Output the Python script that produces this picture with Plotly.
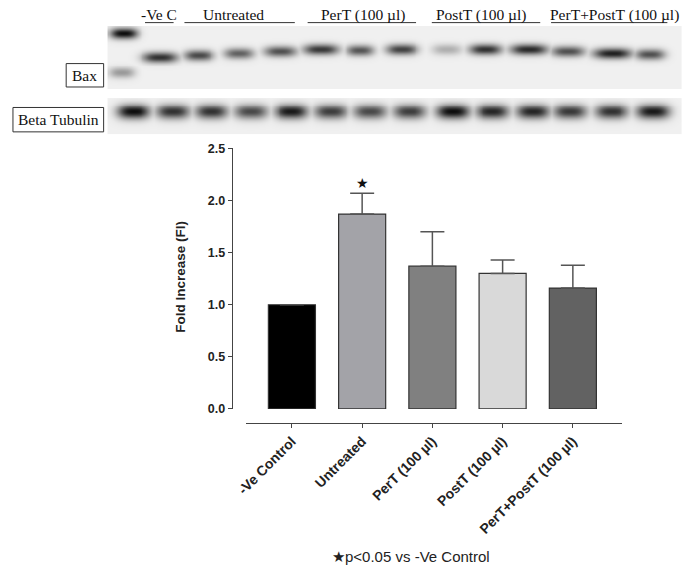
import numpy as np
import plotly.graph_objects as go

# bar chart data
groups = ["-Ve Control", "Untreated", "PerT (100 µl)", "PostT (100 µl)", "PerT+PostT (100 µl)"]
fold_increase = [1.00, 1.87, 1.37, 1.30, 1.16]
sem_upper = [0.0, 0.20, 0.33, 0.13, 0.22]
bar_colors = ["#000000", "#a3a3a8", "#808080", "#d9d9d9", "#626262"]
significant = [False, True, False, False, False]

# blot lane labels
lane_groups = ["-Ve C", "Untreated", "PerT (100 µl)", "PostT (100 µl)", "PerT+PostT (100 µl)"]

# blot band intensities (0 = background, 1 = black)
bax_intensity = [0.85, 0.75, 0.65, 0.72, 0.82, 0.70, 0.78, 0.30, 0.85, 0.88, 0.72, 0.92, 0.72]
tubulin_intensity = [1.0, 0.85, 0.85, 0.75, 0.95, 0.80, 0.75, 0.80, 1.0, 0.90, 0.90, 0.82, 0.85, 0.95]
ladder_intensity = [1.0, 0.40]

W, H = 692, 572

# ---- blot layout (pixel positions) ----
bax_x = [152, 191, 232, 274, 315, 355, 397, 443, 482, 526, 566, 611, 649]
bax_y = [51, 49, 47, 45, 43, 44, 43, 43, 43, 43, 45, 47, 48]
bax_w = [18, 15, 15, 17, 18, 14, 16, 15, 17, 19, 17, 20, 15]
tub_x = [125, 165, 204, 244, 285, 325, 365, 405, 449, 489, 530, 568, 610, 652]
ladder_xy = [(115, 27, 14), (113, 67, 13)]

xs = np.arange(100, 681, 2)
ys = np.arange(20, 131, 1)
X, Y = np.meshgrid(xs, ys)
z = np.zeros(X.shape)
for cx, cy, w, a in zip(bax_x, bax_y, bax_w, bax_intensity):
    z = np.maximum(z, a * np.exp(-np.abs((X - cx) / w) ** 3) * np.exp(-((Y - cy) / 5.5) ** 2))
for (cx, cy, w), a in zip(ladder_xy, ladder_intensity):
    z = np.maximum(z, a * np.exp(-np.abs((X - cx) / w) ** 3) * np.exp(-((Y - cy) / 5.5) ** 2))
for cx, a in zip(tub_x, tubulin_intensity):
    z = np.maximum(z, a * np.exp(-np.abs((X - cx) / 17) ** 3) * np.exp(-((Y - 107) / 7.5) ** 2))
z = z.astype(object)
gap = (Y > 83) & (Y < 93)
z[gap] = None

fig = go.Figure()

fig.add_trace(go.Heatmap(
    x=xs, y=ys, z=z.tolist(), xaxis="x2", yaxis="y2",
    colorscale=[[0, "#f0f0f0"], [0.5, "#858585"], [1, "#0d0d0d"]],
    zmin=0, zmax=1, zsmooth="best", showscale=False, hoverinfo="skip",
))

fig.add_trace(go.Bar(
    x=list(range(len(groups))), y=fold_increase, width=0.67,
    marker=dict(color=bar_colors, line=dict(color="#333333", width=1.2)),
    error_y=dict(type="data", array=sem_upper, arrayminus=[0] * len(groups),
                 color="#555555", thickness=1.5, width=12),
    showlegend=False, hoverinfo="skip",
))

fig.update_layout(
    width=W, height=H, margin=dict(l=0, r=0, t=0, b=0),
    paper_bgcolor="white", plot_bgcolor="rgba(0,0,0,0)",
    font=dict(family="Liberation Sans, Arial", color="#222222"),
    xaxis=dict(domain=[239 / W, 621 / W], anchor="free", position=1 - 426 / H,
               range=[-0.66, 4.70], tickvals=list(range(len(groups))), ticktext=groups,
               tickangle=-45, ticks="outside", ticklen=4, tickcolor="#444444",
               showline=True, linecolor="#444444", linewidth=1.3, showgrid=False,
               zeroline=False, tickfont=dict(size=14, weight="bold", color="#222222")),
    yaxis=dict(domain=[1 - 412 / H, 1 - 145 / H], anchor="free", position=225 / W,
               range=[0, 2.5], dtick=0.5, tickformat=".1f", ticks="outside", ticklen=4,
               tickcolor="#444444", showline=True, linecolor="#444444", linewidth=1.3,
               showgrid=False, zeroline=False,
               tickfont=dict(size=12.5, weight="bold", color="#222222")),
    xaxis2=dict(domain=[0, 1], range=[0, W], visible=False, anchor="y2"),
    yaxis2=dict(domain=[0, 1], range=[H, 0], visible=False, anchor="x2"),
)

# y title
fig.add_annotation(x=173 / W, y=1 - 277 / H, xref="paper", yref="paper",
                   xanchor="center", yanchor="middle",
                   text="Fold Increase (FI)", textangle=-90, showarrow=False,
                   font=dict(size=13.5, weight="bold", color="#222222"))

# significance stars
for i, s in enumerate(significant):
    if s:
        fig.add_annotation(x=i, y=fold_increase[i] + sem_upper[i] + 0.1, xref="x", yref="y",
                           text="★", showarrow=False, font=dict(size=14, color="#111111"))

fig.add_annotation(x=407 / W, y=1 - 563 / H, xref="paper", yref="paper",
                   xanchor="center", yanchor="middle",
                   text="★p<0.05 vs -Ve Control", showarrow=False,
                   font=dict(size=15, color="#222222"))

# blot group labels with underlines
label_cx = [151, 227, 358, 478, 613]
line_spans = [(137, 166), (177, 289), (302, 412), (428, 538), (549, 667)]
serif = "Liberation Serif, Times New Roman"
for txt, cx, (x0, x1) in zip(lane_groups, label_cx, line_spans):
    fig.add_annotation(x=cx, y=8, xref="x2", yref="y2", text=txt, showarrow=False,
                       font=dict(family=serif, size=15.5, color="#111111"))
    fig.add_shape(type="line", x0=x0, x1=x1, y0=16, y1=16, xref="x2", yref="y2",
                  line=dict(color="#333333", width=1))

# row label boxes
for txt, (x0, y0, x1, y1) in zip(["Bax", "Beta Tubulin"], [(57, 58, 95, 82), (3, 103, 95, 128)]):
    fig.add_shape(type="rect", x0=x0, x1=x1, y0=y0, y1=y1, xref="x2", yref="y2",
                  line=dict(color="#333333", width=1), fillcolor="white")
    fig.add_annotation(x=(x0 + x1) / 2, y=(y0 + y1) / 2, xref="x2", yref="y2", text=txt,
                       showarrow=False, font=dict(family=serif, size=15.5, color="#111111"))

fig.write_html("out.html", config={"displayModeBar": False},
               post_script="document.body.style.margin='0';")
